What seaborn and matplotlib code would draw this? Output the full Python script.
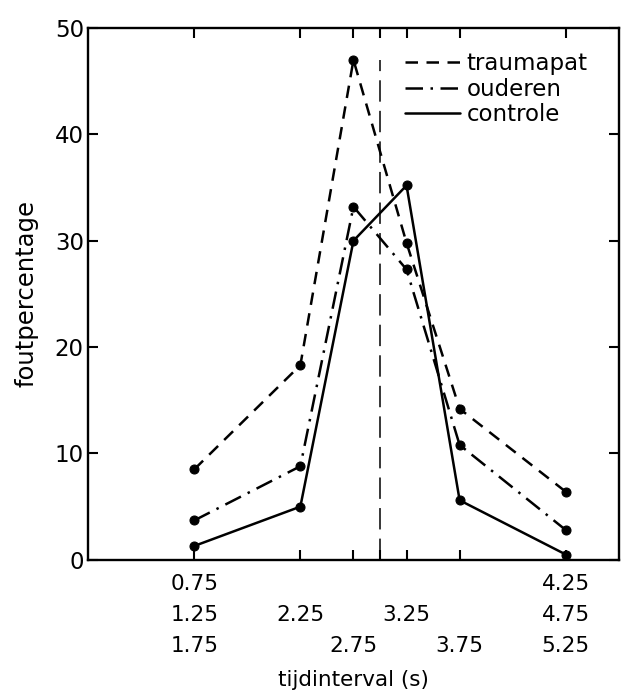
import matplotlib
matplotlib.use("Agg")
import matplotlib.pyplot as plt
from matplotlib.lines import Line2D
import seaborn as sns
import pandas as pd

# x positions (s) where each interval group is plotted
intervals = [1.25, 2.25, 2.75, 3.25, 3.75, 4.75]
tick_labels = ["0.75\n1.25\n1.75", "\n2.25", "\n\n2.75", "", "\n3.25", "\n\n3.75", "4.25\n4.75\n5.25"]
tick_pos = [1.25, 2.25, 2.75, 3.0, 3.25, 3.75, 4.75]

traumapat = [8.5, 18.3, 47.0, 29.8, 14.2, 6.4]
ouderen = [3.7, 8.8, 33.2, 27.3, 10.8, 2.8]
controle = [1.3, 5.0, 30.0, 35.2, 5.6, 0.5]

sns.set_style("ticks")
plt.rcParams["font.family"] = ["DejaVu Sans"]
for k in ["text.color", "axes.labelcolor", "xtick.color", "ytick.color", "axes.edgecolor"]:
    plt.rcParams[k] = "black"

fig = plt.figure(figsize=(6.22, 6.92), dpi=100)
ax = fig.add_axes([0.1415, 0.191, 0.8535, 0.7685])

styles = {
    "traumapat": (traumapat, (0, (5, 3.4))),
    "ouderen": (ouderen, (0, (7, 3, 1, 3))),
    "controle": (controle, "-"),
}

handles = []
for name, (vals, ls) in styles.items():
    df = pd.DataFrame({"t": intervals, "pct": vals})
    sns.lineplot(data=df, x="t", y="pct", ax=ax, color="black", linestyle=ls,
                 linewidth=1.8, marker="o", markersize=6.5, markeredgecolor="black",
                 legend=False)
    handles.append(Line2D([], [], color="black", linestyle=ls, linewidth=1.8, label=name))

# boundary at 3.0 s
ax.axvline(3.0, ymin=0, ymax=0.94, color="black", linestyle=(0, (14, 6)), linewidth=1.1)

ax.set_xlim(0.25, 5.25)
ax.set_ylim(0, 50)
ax.set_xticks(tick_pos)
ax.set_xticklabels(tick_labels, fontsize=15.5, linespacing=1.7, va="top")
ax.set_yticks([0, 10, 20, 30, 40, 50])
ax.tick_params(axis="y", labelsize=16.5)
ax.tick_params(direction="in", length=7.5, width=1.5, top=True, right=True)
ax.tick_params(axis="x", pad=10)
ax.tick_params(axis="y", pad=3)
for s in ax.spines.values():
    s.set_linewidth(1.7)
    s.set_visible(True)

ax.set_xlabel("tijdinterval (s)", fontsize=15.5, labelpad=10)
ax.set_ylabel("foutpercentage", fontsize=17.5, labelpad=12)

leg = ax.legend(handles=handles, loc="upper left", bbox_to_anchor=(0.597, 0.955),
                frameon=False, fontsize=16.5, handlelength=2.4, handletextpad=0.3,
                labelspacing=0.12, borderaxespad=0, borderpad=0)

fig.savefig("out.png", dpi=100)
